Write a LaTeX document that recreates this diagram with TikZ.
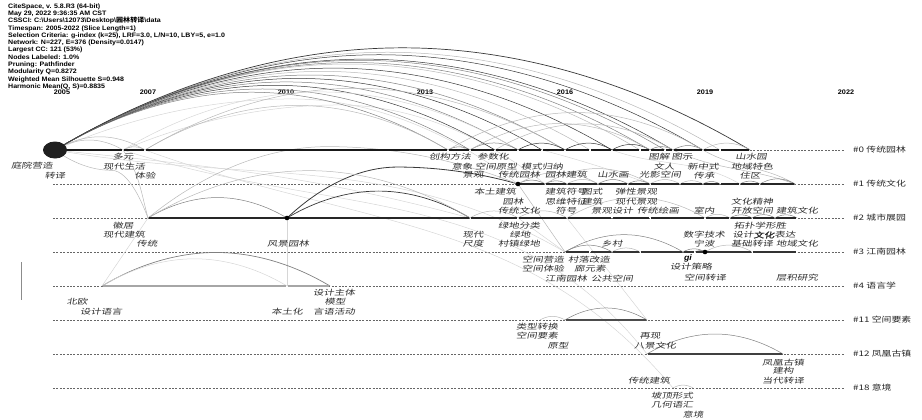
\documentclass[tikz,border=0pt]{standalone}
\usepackage{fontspec}
\usetikzlibrary{calc,shapes.geometric}
\setmainfont{Liberation Sans}
\newfontfamily\hdrfont[FakeStretch=1.1]{Liberation Sans}
\newfontfamily\hdrcjk[FakeStretch=1.1]{Noto Sans CJK SC}
\newfontfamily\kwfont[FakeStretch=1.4,FakeSlant=0.18]{Noto Sans CJK SC}
\newfontfamily\kwbold[FakeStretch=1.4,FakeSlant=0.18,FakeBold=2]{Noto Sans CJK SC}
\newfontfamily\clfont[FakeStretch=1.3]{Noto Sans CJK SC}
\newcommand\arcpp[3][]{\draw[arcbase,#1] (#2) parabola bend ($(#2)!0.5!(#3)!0.294!90:(#3)$) (#3);}
\begin{document}
\begin{tikzpicture}[x=1pt,y=-1pt,
  hdr/.style={anchor=base west,inner sep=0pt,font=\hdrfont\bfseries\fontsize{6.4}{7}\selectfont},
  yr/.style={anchor=base,inner sep=0pt,font=\hdrfont\bfseries\fontsize{6.6}{7}\selectfont},
  kw/.style={inner sep=0pt,text=black!82,font=\kwfont\fontsize{7.5}{8}\selectfont},
  clab/.style={anchor=west,inner sep=0pt,text=black!85,font=\clfont\fontsize{7.6}{8}\selectfont},
  rowdash/.style={draw=black!60,line width=0.5pt,dash pattern=on 2pt off 1.4pt},
  seg/.style={line width=1.6pt,shorten <=0.6pt,shorten >=0.6pt},
  arcbase/.style={line width=0.5pt},
  aA/.style={draw=black!78},
  aB/.style={draw=black!50},
  aC/.style={draw=black!28},
  aD/.style={draw=black!16},
  dotn/.style={circle,fill=black,inner sep=0pt,minimum size=4.6pt}]
\useasboundingbox (0,0) rectangle (922,420);
% ---------- header ----------
\node[hdr] (h1) at (8,8.3) {CiteSpace, v. 5.8.R3 (64-bit)};
\node[hdr] (h2) at (8,15.6) {May 29, 2022 9:36:35 AM CST};
\node[hdr] (h3) at (8,22.9) {CSSCI: C:\textbackslash Users\textbackslash 12073\textbackslash Desktop\textbackslash{\hdrcjk 园林转译}\textbackslash data};
\node[hdr] (h4) at (8,30.1) {Timespan: 2005-2022 (Slice Length=1)};
\node[hdr] (h5) at (8,37.4) {Selection Criteria: g-index (k=25), LRF=3.0, L/N=10, LBY=5, e=1.0};
\node[hdr] (h6) at (8,44.7) {Network: N=227, E=376 (Density=0.0147)};
\node[hdr] (h7) at (8,52.0) {Largest CC: 121 (53\%)};
\node[hdr] (h8) at (8,59.2) {Nodes Labeled: 1.0\%};
\node[hdr] (h9) at (8,66.5) {Pruning: Pathfinder};
\node[hdr] (h10) at (8,73.8) {Modularity Q=0.8272};
\node[hdr] (h11) at (8,81.1) {Weighted Mean Silhouette S=0.948};
\node[hdr] (h12) at (8,88.3) {Harmonic Mean(Q, S)=0.8835};
% ---------- years ----------
\node[yr] (y05) at (62,95) {2005};
\node[yr] (y07) at (148,95) {2007};
\node[yr] (y10) at (286,95) {2010};
\node[yr] (y13) at (425,95) {2013};
\node[yr] (y16) at (565,95) {2016};
\node[yr] (y19) at (705,95) {2019};
\node[yr] (y22) at (846,95) {2022};
% ---------- rows ----------
\foreach \y in {184,218,252,286,320,354,388} \draw[rowdash] (53,\y) -- (845,\y);
\draw[rowdash] (750,150) -- (845,150);
\foreach \x in {55,123,145,448,470,495,518,542,565,590,612,640,650,665,673,703,720,750} \coordinate (r0x\x) at (\x,150);
\foreach \x in {518,545,567,598,628,650,680,703,720,740,760,795} \coordinate (r1x\x) at (\x,184);
\foreach \x in {148,287,470,518,567,612,650,705,730,752,775,797} \coordinate (r2x\x) at (\x,218);
\foreach \x in {565,590,612,640,683,695,705,752,797} \coordinate (r3x\x) at (\x,252);
\foreach \x in {102,287,330} \coordinate (r4x\x) at (\x,286);
\foreach \x in {540,565,647} \coordinate (r11x\x) at (\x,320);
\foreach \x in {647,783} \coordinate (r12x\x) at (\x,354);
\foreach \x in {673,693} \coordinate (r18x\x) at (\x,388);
% ---------- cross-cluster links ----------
\draw[arcbase,aD] (r0x145) to[out=-20,in=130] (r18x673);
\draw[arcbase,aD] (r0x123) to[out=-18,in=128] (r12x647);
\draw[arcbase,aD] (r0x55) to[out=-6,in=165] (r2x470);
\draw[arcbase,aD] (r0x55) to[out=-10,in=150] (r3x565);
\draw[arcbase,aC] (r0x123) to[out=-55,in=105] (r2x148);
\draw[arcbase,aD] (r4x102) -- (r2x148);
\draw[arcbase,aD] (r2x287) -- (r4x287);
\draw[arcbase,aD] (r2x518) -- (r3x565);
\draw[arcbase,aD] (r2x567) -- (r11x647);
\draw[arcbase,aC] (r1x518) -- (r3x565);
\draw[arcbase,aC] (r0x703) to[out=-30,in=150] (r1x795);
\draw[arcbase,aC] (r0x673) to[out=-25,in=160] (r1x795);
\draw[arcbase,aD] (r0x612) to[out=-20,in=150] (r1x740);
\draw[arcbase,aD] (r0x542) to[out=-15,in=160] (r1x650);
\arcpp[aA,line width=0.8pt]{r2x287}{r1x518}
\arcpp[aC]{r2x148}{r1x518}
\arcpp[aC]{r0x55}{r2x148}
\arcpp[aD]{r0x55}{r1x518}
\arcpp[aD]{r0x123}{r1x545}
% ---------- row 0 arcs ----------
\arcpp[aC]{r0x55}{r0x123}
\arcpp[aC]{r0x55}{r0x145}
\arcpp[aB]{r0x55}{r0x448}
\arcpp[aB]{r0x55}{r0x470}
\arcpp[aA]{r0x55}{r0x495}
\arcpp[aB]{r0x55}{r0x518}
\arcpp[aA]{r0x55}{r0x542}
\arcpp[aB]{r0x55}{r0x565}
\arcpp[aC]{r0x55}{r0x590}
\arcpp[aA]{r0x55}{r0x612}
\arcpp[aC]{r0x55}{r0x640}
\arcpp[aB]{r0x55}{r0x650}
\arcpp[aB]{r0x55}{r0x665}
\arcpp[aA]{r0x55}{r0x673}
\arcpp[aA]{r0x55}{r0x703}
\arcpp[aC]{r0x55}{r0x720}
\arcpp[aA,line width=0.7pt]{r0x55}{r0x750}
\arcpp[aC]{r0x123}{r0x145}
\arcpp[aC]{r0x145}{r0x448}
\arcpp[aC]{r0x145}{r0x565}
\arcpp[aD]{r0x123}{r0x518}
\arcpp[aB]{r0x448}{r0x470}
\arcpp[aB]{r0x470}{r0x518}
\arcpp[aA]{r0x518}{r0x565}
\arcpp[aA]{r0x565}{r0x612}
\arcpp[aA]{r0x612}{r0x650}
\arcpp[aB]{r0x650}{r0x673}
\arcpp[aB]{r0x673}{r0x703}
\arcpp[aC]{r0x703}{r0x750}
\arcpp[aC]{r0x470}{r0x650}
\arcpp[aC]{r0x495}{r0x673}
\arcpp[aC]{r0x448}{r0x703}
% ---------- row 1 arcs ----------
\arcpp[aB]{r1x518}{r1x545}
\arcpp[aB]{r1x545}{r1x567}
\arcpp[aC]{r1x567}{r1x598}
\arcpp[aB]{r1x598}{r1x628}
\arcpp[aB]{r1x628}{r1x650}
\arcpp[aC]{r1x650}{r1x680}
\arcpp[aC]{r1x680}{r1x703}
\arcpp[aB]{r1x703}{r1x720}
\arcpp[aB]{r1x740}{r1x760}
\arcpp[aB]{r1x760}{r1x795}
\arcpp[aC]{r1x518}{r1x598}
\arcpp[aC]{r1x545}{r1x650}
% ---------- row 2 arcs ----------
\arcpp[aB]{r2x148}{r2x287}
\arcpp[aA,line width=0.7pt]{r2x287}{r2x470}
\arcpp[aC]{r2x148}{r2x470}
\arcpp[aC]{r2x470}{r2x518}
\arcpp[aC]{r2x518}{r2x567}
\arcpp[aC]{r2x567}{r2x705}
\arcpp[aC]{r2x705}{r2x730}
\arcpp[aB]{r2x730}{r2x752}
\arcpp[aB]{r2x752}{r2x775}
\arcpp[aB]{r2x775}{r2x797}
% ---------- row 3 arcs ----------
\arcpp[aB]{r3x565}{r3x612}
\arcpp[aB]{r3x565}{r3x683}
\arcpp[aC]{r3x612}{r3x640}
\arcpp[aB]{r3x683}{r3x705}
\arcpp[aB]{r3x695}{r3x705}
\arcpp[aC]{r3x705}{r3x752}
% ---------- rows 4, 11, 12, 18 arcs ----------
\arcpp[aB,line width=0.7pt]{r4x102}{r4x330}
\arcpp[aD]{r4x102}{r4x287}
\arcpp[aC]{r11x540}{r11x565}
\arcpp[aB]{r11x565}{r11x647}
\arcpp[aB]{r12x647}{r12x783}
\arcpp[aC]{r18x673}{r18x693}
% ---------- solid timelines ----------
\foreach \a/\b in {55/123,123/145,145/448,448/470,470/495,495/518,518/542,542/565,565/590,590/612,612/640,640/650,650/665,665/673,673/703,703/720,720/750}
  \draw[seg,black!90] (r0x\a) -- (r0x\b);
\foreach \a/\b in {518/545,545/567,567/598,598/628,628/650,650/680,680/703,703/720,720/740,740/760,760/795}
  \draw[seg,black!85] (r1x\a) -- (r1x\b);
\foreach \a/\b in {148/287,287/470,470/518,518/567,567/612,612/650,650/705,705/730,730/752,752/775,775/797}
  \draw[seg,black!85] (r2x\a) -- (r2x\b);
\foreach \a/\b in {565/590,590/612,612/640,640/683,683/695,695/705,705/752,752/797}
  \draw[seg,black!80] (r3x\a) -- (r3x\b);
\draw[seg,black!35] (r4x102) -- (r4x287);
\draw[seg,black!35] (r4x287) -- (r4x330);
\draw[seg,black!70] (r11x565) -- (r11x647);
\draw[seg,black!75] (r12x647) -- (r12x783);
% ---------- nodes ----------
\node[ellipse,fill=black!88,minimum width=24pt,minimum height=17pt,inner sep=0pt] (big) at (r0x55) {};
\node[dotn] (d1) at (r1x518) {};
\node[dotn] (d2) at (r2x287) {};
\node[dotn] (d3) at (r3x705) {};
\draw[black!45,line width=0.6pt] (21,262) -- (21,300);
% ---------- labels row 0 ----------
\node[kw] (k001) at (32,166) {庭院营造};
\node[kw] (k002) at (55,176) {转译};
\node[kw] (k003) at (123,157) {多元};
\node[kw] (k004) at (124,167) {现代生活};
\node[kw] (k005) at (145,176) {体验};
\node[kw] (k006) at (450,157) {创构方法};
\node[kw] (k007) at (493,157) {参数化};
\node[kw] (k008) at (462,167) {意象};
\node[kw] (k009) at (496,167) {空间原型};
\node[kw] (k010) at (542,167) {模式归纳};
\node[kw] (k011) at (473,175) {景观};
\node[kw] (k012) at (519,175) {传统园林};
\node[kw] (k013) at (566,175) {园林建筑};
\node[kw] (k014) at (613,175) {山水画};
\node[kw] (k015) at (660,175) {光影空间};
\node[kw] (k016) at (659,157) {图解};
\node[kw] (k017) at (682,157) {图示};
\node[kw] (k018) at (664,167) {文人};
\node[kw] (k019) at (703,167) {新中式};
\node[kw] (k020) at (704,176) {传承};
\node[kw] (k021) at (751,157) {山水园};
\node[kw] (k022) at (752,167) {地域特色};
\node[kw] (k023) at (750,176) {住区};
% ---------- labels row 1 ----------
\node[kw] (k101) at (495,192) {本土建筑};
\node[kw] (k102) at (513,202) {园林};
\node[kw] (k103) at (519,211) {传统文化};
\node[kw] (k104) at (566,192) {建筑符号};
\node[kw] (k105) at (592,192) {图式};
\node[kw] (k106) at (566,202) {思维特征};
\node[kw] (k107) at (592,202) {建筑};
\node[kw] (k108) at (566,211) {符号};
\node[kw] (k109) at (612,211) {景观设计};
\node[kw] (k110) at (636,192) {弹性景观};
\node[kw] (k111) at (636,202) {现代景观};
\node[kw] (k112) at (658,211) {传统绘画};
\node[kw] (k113) at (704,211) {室内};
\node[kw] (k114) at (752,202) {文化精神};
\node[kw] (k115) at (752,211) {开放空间};
\node[kw] (k116) at (797,211) {建筑文化};
% ---------- labels row 2 ----------
\node[kw] (k201) at (123,226) {徽居};
\node[kw] (k202) at (124,235) {现代建筑};
\node[kw] (k203) at (147,244) {传统};
\node[kw] (k204) at (288,244) {风景园林};
\node[kw] (k205) at (473,235) {现代};
\node[kw] (k206) at (473,244) {尺度};
\node[kw] (k207) at (519,226) {绿地分类};
\node[kw] (k208) at (520,235) {绿地};
\node[kw] (k209) at (519,244) {村镇绿地};
\node[kw] (k210) at (612,244) {乡村};
\node[kw] (k211) at (760,226) {拓扑学形胜};
\node[kw] (k212) at (704,235) {数字技术};
\node[kw] (k213) at (764,235) {设计{\kwbold\fontsize{7.5}{8}\selectfont 文化}表达};
\node[kw] (k215) at (704,244) {宁波};
\node[kw] (k216) at (752,244) {基础转译};
\node[kw] (k217) at (797,244) {地域文化};
% ---------- labels row 3 ----------
\node[kw] (k301) at (543,260) {空间营造};
\node[kw] (k302) at (589,260) {村落改造};
\node[kw] (k303) at (543,269) {空间体验};
\node[kw] (k304) at (590,269) {廊元素};
\node[kw] (k305) at (566,279) {江南园林};
\node[kw] (k306) at (612,279) {公共空间};
\node[inner sep=0pt,font=\hdrfont\bfseries\itshape\fontsize{8}{9}\selectfont] (k307) at (688,258) {gi};
\node[kw] (k308) at (691,267) {设计策略};
\node[kw] (k309) at (705,278) {空间转译};
\node[kw] (k310) at (797,278) {层积研究};
% ---------- labels row 4 ----------
\node[kw] (k401) at (77,302) {北欧};
\node[kw] (k402) at (101,312) {设计语言};
\node[kw] (k403) at (334,293) {设计主体};
\node[kw] (k404) at (335,302) {模型};
\node[kw] (k405) at (287,312) {本土化};
\node[kw] (k406) at (334,312) {言语活动};
% ---------- labels rows 11, 12, 18 ----------
\node[kw] (k501) at (537,327) {类型转换};
\node[kw] (k502) at (537,336) {空间要素};
\node[kw] (k503) at (558,346) {原型};
\node[kw] (k504) at (650,336) {再现};
\node[kw] (k505) at (655,346) {八景文化};
\node[kw] (k601) at (783,363) {凤凰古镇};
\node[kw] (k602) at (783,371) {建构};
\node[kw] (k603) at (783,381) {当代转译};
\node[kw] (k604) at (649,381) {传统建筑};
\node[kw] (k701) at (672,396) {坡顶形式};
\node[kw] (k702) at (672,405) {几何语汇};
\node[kw] (k703) at (693,415) {意境};
% ---------- cluster labels ----------
\node[clab] (c0) at (853,150) {\#0 传统园林};
\node[clab] (c1) at (853,184) {\#1 传统文化};
\node[clab] (c2) at (853,218) {\#2 城市展园};
\node[clab] (c3) at (853,252) {\#3 江南园林};
\node[clab] (c4) at (853,286) {\#4 语言学};
\node[clab] (c11) at (853,320) {\#11 空间要素};
\node[clab] (c12) at (853,354) {\#12 凤凰古镇};
\node[clab] (c18) at (853,388) {\#18 意境};
\end{tikzpicture}
\end{document}
